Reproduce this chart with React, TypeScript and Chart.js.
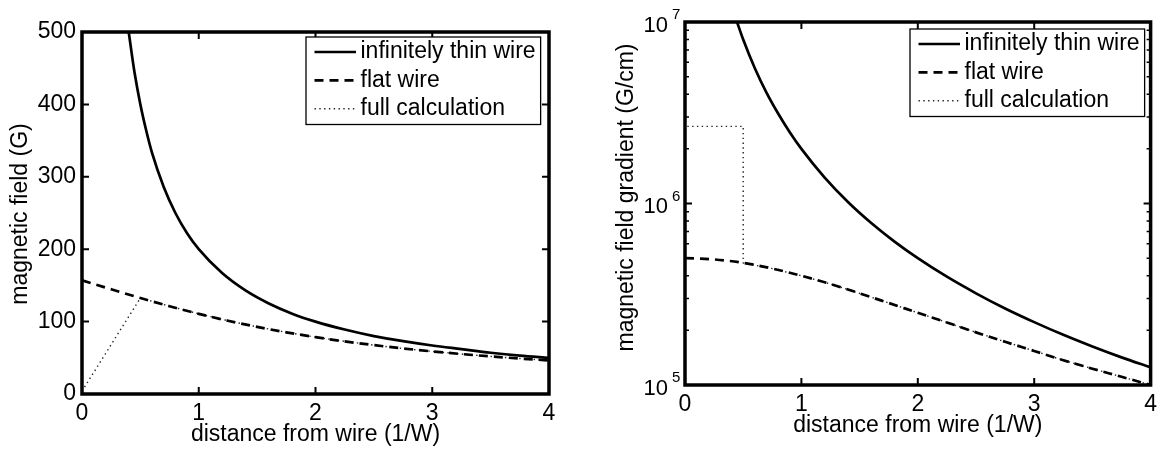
import React, { useEffect, useRef } from "react";
import { Chart, registerables } from "chart.js";

Chart.register(...registerables);

const FONT = "'Liberation Sans', Arial, Helvetica, sans-serif";
const FONT_SIZE = 23;

// ---------------- data ----------------
const seriesNames = ["infinitely thin wire", "flat wire", "full calculation"];
const distanceTicks = [0, 1, 2, 3, 4];
const fieldTicks = [0, 100, 200, 300, 400, 500];
const gradientDecades = [1e5, 1e6, 1e7];
const gradientExponents = ["5", "6", "7"];
const gradientMinorTicks = [2e5, 3e5, 4e5, 5e5, 6e5, 7e5, 8e5, 9e5, 2e6, 3e6, 4e6, 5e6, 6e6, 7e6, 8e6, 9e6];

// left panel: magnetic field (G)
const thinFieldX = [0.4, 0.45, 0.5, 0.55, 0.6, 0.7, 0.8, 0.9, 1.0, 1.2, 1.4, 1.6, 1.8, 2.0, 2.25, 2.5, 2.75, 3.0, 3.25, 3.5, 3.75, 4.0];
const thinFieldY = [500, 444, 400, 364, 333, 286, 250, 222, 200, 167, 143, 125, 111, 100, 89, 80, 73, 67, 62, 57, 53, 50];

const flatFieldX = [0, 0.25, 0.5, 0.75, 1.0, 1.25, 1.5, 1.75, 2.0, 2.25, 2.5, 2.75, 3.0, 3.25, 3.5, 3.75, 4.0];
const flatFieldY = [157, 144.6, 132.6, 121.2, 110.7, 101.2, 92.7, 85.2, 78.5, 72.7, 67.5, 62.9, 58.8, 55.2, 51.9, 49.0, 46.4];

const fullFieldX = [0, 0.5, 0.75, 1.0, 1.25, 1.5, 1.75, 2.0, 2.25, 2.5, 2.75, 3.0, 3.25, 3.5, 3.75, 4.0];
const fullFieldY = [4, 132.6, 121.2, 110.7, 101.2, 92.7, 85.2, 78.5, 72.7, 67.5, 62.9, 58.8, 55.2, 51.9, 49.0, 46.4];

// right panel: magnetic field gradient (G/cm)
const thinGradX = [0.44, 0.5, 0.6, 0.7, 0.8, 0.9, 1.0, 1.2, 1.4, 1.6, 1.8, 2.0, 2.25, 2.5, 2.75, 3.0, 3.25, 3.5, 3.75, 4.0];
const thinGradY = [1.03e7, 8.0e6, 5.56e6, 4.08e6, 3.13e6, 2.47e6, 2.0e6, 1.39e6, 1.02e6, 7.81e5, 6.17e5, 5.0e5, 3.95e5, 3.2e5, 2.64e5, 2.22e5, 1.89e5, 1.63e5, 1.42e5, 1.25e5];

const flatGradX = [0, 0.25, 0.5, 0.75, 1.0, 1.25, 1.5, 1.75, 2.0, 2.25, 2.5, 2.75, 3.0, 3.25, 3.5, 3.75, 4.0];
const flatGradY = [5.0e5, 4.92e5, 4.71e5, 4.38e5, 4.0e5, 3.6e5, 3.2e5, 2.83e5, 2.5e5, 2.21e5, 1.95e5, 1.73e5, 1.54e5, 1.37e5, 1.23e5, 1.11e5, 1.0e5];

const fullGradX = [0.02, 0.5, 0.5, 0.75, 1.0, 1.25, 1.5, 1.75, 2.0, 2.25, 2.5, 2.75, 3.0, 3.25, 3.5, 3.75, 4.0];
const fullGradY = [2.66e6, 2.66e6, 4.71e5, 4.38e5, 4.0e5, 3.6e5, 3.2e5, 2.83e5, 2.5e5, 2.21e5, 1.95e5, 1.73e5, 1.54e5, 1.37e5, 1.23e5, 1.11e5, 1.0e5];

// ---------------- helpers ----------------
const pts = (xs: number[], ys: number[]) => xs.map((x, i) => ({ x, y: ys[i] }));

function makeDatasets(tx: number[], ty: number[], fx: number[], fy: number[], cx: number[], cy: number[]) {
  const common = { pointRadius: 0, pointHoverRadius: 0, fill: false, clip: 0 };
  return [
    { ...common, label: seriesNames[0], data: pts(tx, ty), borderColor: "#000", borderWidth: 2.7, borderDash: [], cubicInterpolationMode: "monotone" },
    { ...common, label: seriesNames[1], data: pts(fx, fy), borderColor: "#000", borderWidth: 2.7, borderDash: [9, 6], cubicInterpolationMode: "monotone" },
    { ...common, label: seriesNames[2], data: pts(cx, cy), borderColor: "#222", borderWidth: 1.4, borderDash: [1.4, 3.4], tension: 0 },
  ];
}

const framePlugin = {
  id: "matlabFrame",
  afterDatasetsDraw(chart: any, _args: any, o: any) {
    const { ctx, chartArea: a } = chart;
    const xs = chart.scales.x;
    const ys = chart.scales.y;
    ctx.save();
    ctx.strokeStyle = "#000";
    ctx.fillStyle = "#000";
    ctx.setLineDash([]);
    // major ticks (inward, on all four sides)
    ctx.lineWidth = 2;
    ctx.beginPath();
    for (const v of o.xTicks) {
      const p = xs.getPixelForValue(v);
      ctx.moveTo(p, a.bottom); ctx.lineTo(p, a.bottom - o.tick);
      ctx.moveTo(p, a.top); ctx.lineTo(p, a.top + o.tick);
    }
    for (const v of o.yTicks) {
      const p = ys.getPixelForValue(v);
      ctx.moveTo(a.left, p); ctx.lineTo(a.left + o.tick, p);
      ctx.moveTo(a.right, p); ctx.lineTo(a.right - o.tick, p);
    }
    ctx.stroke();
    if (o.minorTicks) {
      ctx.lineWidth = 1.5;
      ctx.beginPath();
      for (const v of o.minorTicks) {
        const p = ys.getPixelForValue(v);
        ctx.moveTo(a.left, p); ctx.lineTo(a.left + o.minorTick, p);
        ctx.moveTo(a.right, p); ctx.lineTo(a.right - o.minorTick, p);
      }
      ctx.stroke();
    }
    // axes box
    ctx.lineWidth = 3.5;
    ctx.lineJoin = "miter";
    ctx.strokeRect(a.left, a.top, a.right - a.left, a.bottom - a.top);

    // legend
    ctx.font = `${FONT_SIZE}px ${FONT}`;
    const dss = chart.data.datasets;
    const maxW = Math.max(...dss.map((d: any) => ctx.measureText(d.label).width));
    const L = o.legendX, T = o.legendY;
    const textX = L + 54.5;
    const W = textX - L + maxW + 5;
    const H = 87.5;
    ctx.fillStyle = "#fff";
    ctx.fillRect(L, T, W, H);
    ctx.lineWidth = 1.3;
    ctx.strokeStyle = "#000";
    ctx.strokeRect(L, T, W, H);
    const rows = [15, 43.4, 71.7];
    dss.forEach((d: any, i: number) => {
      const y = T + rows[i];
      ctx.save();
      ctx.setLineDash(d.borderDash || []);
      ctx.lineWidth = d.borderWidth;
      ctx.strokeStyle = d.borderColor;
      ctx.beginPath();
      ctx.moveTo(L + 8.5, y);
      ctx.lineTo(L + 50, y);
      ctx.stroke();
      ctx.restore();
      ctx.fillStyle = "#000";
      ctx.textAlign = "left";
      ctx.textBaseline = "middle";
      ctx.fillText(d.label, textX, y);
    });

    // axis titles
    ctx.fillStyle = "#000";
    ctx.font = `${FONT_SIZE}px ${FONT}`;
    ctx.textAlign = "center";
    ctx.textBaseline = "alphabetic";
    ctx.fillText(o.xTitle, (a.left + a.right) / 2, o.xTitleY);
    ctx.save();
    ctx.translate(o.yTitleX, (a.top + a.bottom) / 2 + o.yTitleShift);
    ctx.rotate(-Math.PI / 2);
    ctx.fillText(o.yTitle, 0, 0);
    ctx.restore();

    // log-axis labels with superscript exponents
    if (o.logLabels) {
      o.logLabels.forEach((v: number, i: number) => {
        const p = ys.getPixelForValue(v);
        ctx.font = `22px ${FONT}`;
        ctx.textAlign = "right";
        ctx.textBaseline = "alphabetic";
        ctx.fillText("10", a.left - 17, p + 9.5);
        ctx.font = `15px ${FONT}`;
        ctx.textAlign = "left";
        ctx.fillText(o.logExponents[i], a.left - 13, p - 3);
      });
    }
    ctx.restore();
  },
};

function makeConfig(p: any) {
  return {
    type: "line",
    data: { datasets: p.datasets },
    plugins: [framePlugin],
    options: {
      animation: false,
      responsive: false,
      devicePixelRatio: 1,
      events: [],
      layout: { padding: p.padding },
      plugins: {
        legend: { display: false },
        tooltip: { enabled: false },
        matlabFrame: p.frame,
      },
      scales: {
        x: {
          type: "linear",
          min: 0,
          max: 4,
          afterBuildTicks: (s: any) => { s.ticks = distanceTicks.map((value) => ({ value })); },
          afterFit: (s: any) => { s.height = p.xHeight; },
          grid: { display: false, drawTicks: false },
          border: { display: false },
          ticks: { color: "#000", font: { family: FONT, size: FONT_SIZE }, padding: 6, maxRotation: 0, autoSkip: false },
        },
        y: {
          type: p.yType,
          min: p.yMin,
          max: p.yMax,
          afterBuildTicks: (s: any) => { s.ticks = p.yTicks.map((value: number) => ({ value })); },
          afterFit: (s: any) => { s.width = p.yWidth; },
          grid: { display: false, drawTicks: false },
          border: { display: false },
          ticks: { display: p.showYLabels, color: "#000", font: { family: FONT, size: FONT_SIZE }, padding: 6, autoSkip: false },
        },
      },
    },
  };
}

const leftPanel = {
  datasets: makeDatasets(thinFieldX, thinFieldY, flatFieldX, flatFieldY, fullFieldX, fullFieldY),
  padding: { left: 0, top: 32, right: 31, bottom: 0 },
  xHeight: 61,
  yWidth: 82,
  yType: "linear",
  yMin: 0,
  yMax: 500,
  yTicks: fieldTicks,
  showYLabels: true,
  frame: {
    xTicks: distanceTicks, yTicks: fieldTicks, tick: 7, minorTick: 4,
    xTitle: "distance from wire (1/W)", yTitle: "magnetic field (G)",
    xTitleY: 441, yTitleX: 27, yTitleShift: 1, legendX: 306, legendY: 37,
  },
};

const rightPanel = {
  datasets: makeDatasets(thinGradX, thinGradY, flatGradX, flatGradY, fullGradX, fullGradY),
  padding: { left: 0, top: 22, right: 10, bottom: 0 },
  xHeight: 70,
  yWidth: 105,
  yType: "logarithmic",
  yMin: 1e5,
  yMax: 1e7,
  yTicks: gradientDecades,
  showYLabels: false,
  frame: {
    xTicks: distanceTicks, yTicks: gradientDecades, minorTicks: gradientMinorTicks, tick: 7, minorTick: 4,
    xTitle: "distance from wire (1/W)", yTitle: "magnetic field gradient (G/cm)",
    xTitleY: 432, yTitleX: 53, yTitleShift: -6, legendX: 330, legendY: 29,
    logLabels: gradientDecades, logExponents: gradientExponents,
  },
};

export default function App() {
  const leftRef = useRef<HTMLCanvasElement | null>(null);
  const rightRef = useRef<HTMLCanvasElement | null>(null);

  useEffect(() => {
    const c1 = new Chart(leftRef.current as HTMLCanvasElement, makeConfig(leftPanel) as any);
    const c2 = new Chart(rightRef.current as HTMLCanvasElement, makeConfig(rightPanel) as any);
    return () => {
      c1.destroy();
      c2.destroy();
    };
  }, []);

  return (
    <div style={{ position: "absolute", left: 0, top: 0, width: 1163, height: 455, background: "#fff", overflow: "hidden" }}>
      <canvas ref={leftRef} width={580} height={455} style={{ position: "absolute", left: 0, top: 0, width: 580, height: 455 }} />
      <canvas ref={rightRef} width={583} height={455} style={{ position: "absolute", left: 580, top: 0, width: 583, height: 455 }} />
    </div>
  );
}
